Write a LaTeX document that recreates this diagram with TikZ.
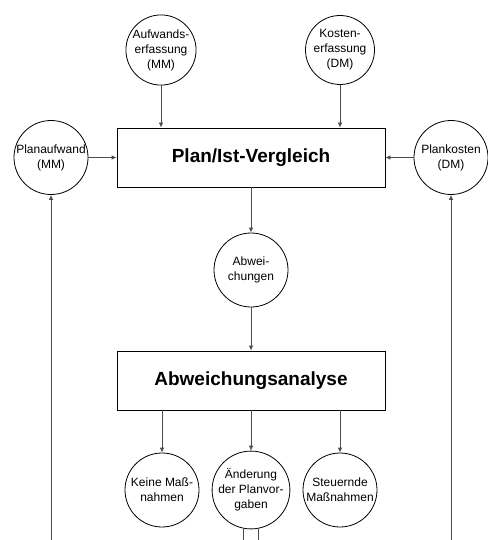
\documentclass[tikz,border=0pt]{standalone}
\usepackage{fontspec}
\setmainfont{Liberation Sans}
\usetikzlibrary{arrows.meta}
\begin{document}
\begin{tikzpicture}[x=1pt,y=-1pt,
  circ/.style={draw=black, line width=0.8pt, circle, minimum size=74pt, inner sep=0pt,
    align=center, font=\fontsize{12}{15}\selectfont},
  smallcirc/.style={circ, minimum size=69pt},
  bigbox/.style={draw=black, line width=0.8pt, rectangle, minimum width=268pt,
    minimum height=59pt, font=\fontsize{19}{22}\selectfont\bfseries},
  arr/.style={draw=black!70, line width=0.8pt, -{Latex[length=5pt,width=4.5pt]}},
  plain/.style={draw=black!70, line width=0.8pt}]
\useasboundingbox (0,0) rectangle (487,540);

% Top row: actual data capture
\node[smallcirc] (auf) at (161,50) {Aufwands-\\erfassung\\(MM)};
\node[smallcirc] (kos) at (340,50) {Kosten-\\erfassung\\(DM)};

% Plan/actual comparison with planned values at the sides
\node[bigbox] (plan) at (251,157.5) {Plan/Ist-Vergleich};
\node[circ] (pa) at (51,157.5) {Planaufwand\\(MM)};
\node[circ] (pk) at (451,157.5) {Plankosten\\(DM)};

\node[circ] (abw) at (251,270) {Abwei-\\chungen};
\node[bigbox] (ana) at (251,380.5) {Abweichungsanalyse};

% Possible measures
\node[circ] (kein) at (162,490) {Keine Maß-\\nahmen};
\node[circ] (aend) at (251,490) {Änderung\\der Planvor-\\gaben};
\node[circ] (steu) at (340,490) {Steuernde\\Maßnahmen};

% Feedback lines entering from below
\coordinate (fbl) at (51,540);
\coordinate (fbr) at (451,540);
\coordinate (fbm) at (251,540);

\draw[arr] (auf) -- (auf |- plan.north);
\draw[arr] (kos) -- (kos |- plan.north);
\draw[arr] (pa) -- (plan.west |- pa);
\draw[arr] (pk) -- (plan.east |- pk);
\draw[arr] (plan.south) -- (abw.north);
\draw[arr] (abw.south) -- (ana.north);
\draw[arr] (kein |- ana.south) -- (kein.north);
\draw[arr] (aend |- ana.south) -- (aend.north);
\draw[arr] (steu |- ana.south) -- (steu.north);
\draw[arr] (fbl) -- (pa.south);
\draw[arr] (fbr) -- (pk.south);
\draw[plain] (aend.-101) -- (aend.-101 |- fbm);
\draw[plain] (aend.-79) -- (aend.-79 |- fbm);
\end{tikzpicture}
\end{document}
